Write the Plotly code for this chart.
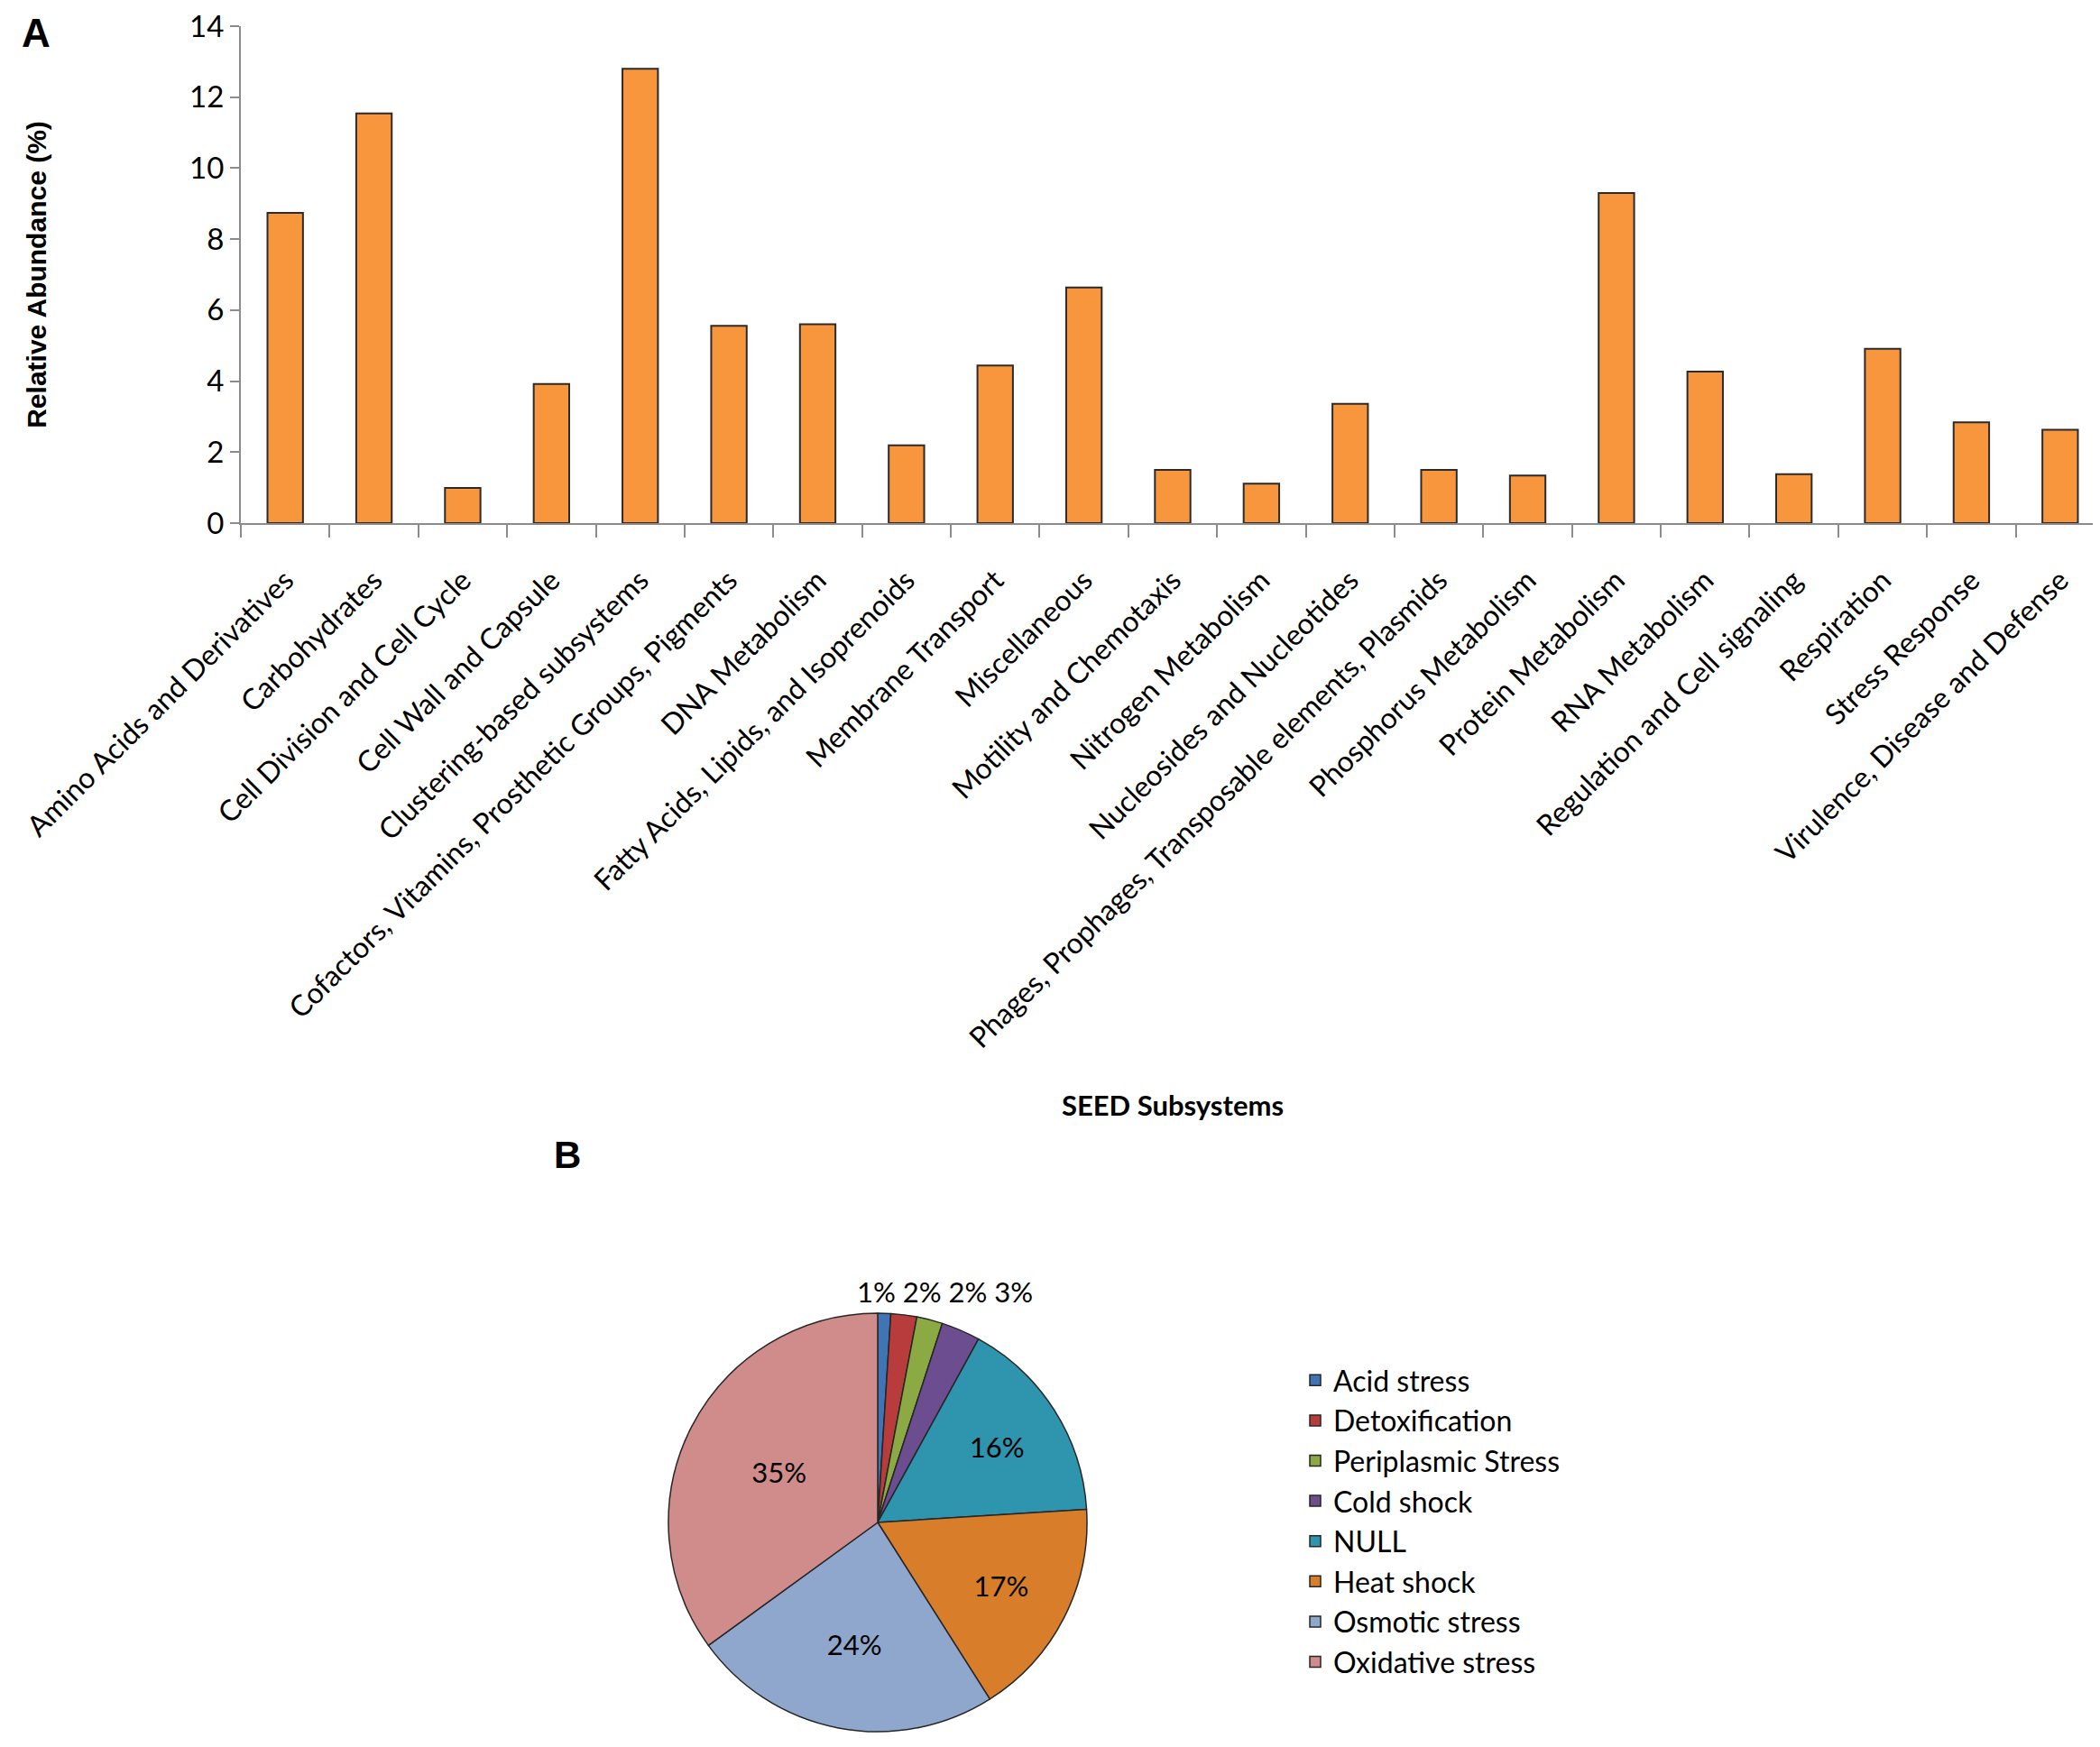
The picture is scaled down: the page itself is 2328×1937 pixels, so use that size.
import plotly.graph_objects as go

# ---------------- Data ----------------
categories = [
    "Amino Acids and Derivatives", "Carbohydrates", "Cell Division and Cell Cycle",
    "Cell Wall and Capsule", "Clustering-based subsystems",
    "Cofactors, Vitamins, Prosthetic Groups, Pigments", "DNA Metabolism",
    "Fatty Acids, Lipids, and Isoprenoids", "Membrane Transport", "Miscellaneous",
    "Motility and Chemotaxis", "Nitrogen Metabolism", "Nucleosides and Nucleotides",
    "Phages, Prophages, Transposable elements, Plasmids", "Phosphorus Metabolism",
    "Protein Metabolism", "RNA Metabolism", "Regulation and Cell signaling",
    "Respiration", "Stress Response", "Virulence, Disease and Defense",
]
abundance = [8.74, 11.54, 0.99, 3.92, 12.80, 5.56, 5.60, 2.19, 4.44, 6.64,
             1.50, 1.11, 3.36, 1.50, 1.34, 9.30, 4.27, 1.38, 4.91, 2.84, 2.63]
y_ticks = [0, 2, 4, 6, 8, 10, 12, 14]

stress_labels = ["Acid stress", "Detoxification", "Periplasmic Stress", "Cold shock",
                 "NULL", "Heat shock", "Osmotic stress", "Oxidative stress"]
stress_values = [1, 2, 2, 3, 16, 17, 24, 35]
stress_colors = ["#3F74B5", "#B83C3C", "#8BAA44", "#6C4D90",
                 "#2F94AE", "#D87E2B", "#8FA7CD", "#CF8C8A"]
# small slices get their labels in a row above the pie (as in the original)
stress_label_above = [True, True, True, True, False, False, False, False]

W, H = 2328, 1937
FONT = "Lato"

total = sum(stress_values)
pie_text = ["" if above else "%{percent:.0%}" for above in stress_label_above]
pie_pos = ["none" if above else "inside" for above in stress_label_above]
above_text = " ".join(f"{round(100 * v / total)}%"
                      for v, above in zip(stress_values, stress_label_above) if above)

fig = go.Figure()

fig.add_trace(go.Bar(
    x=categories, y=abundance,
    marker=dict(color="#F7963D", line=dict(color="#2b2b2b", width=2)),
    showlegend=False, hoverinfo="x+y",
))

pcx, pcy, pr = 965, 1680, 232
fig.add_trace(go.Pie(
    labels=stress_labels, values=stress_values,
    marker=dict(colors=stress_colors, line=dict(color="#262626", width=1.5)),
    sort=False, direction="clockwise", rotation=0,
    texttemplate=pie_text, textposition=pie_pos,
    insidetextorientation="horizontal",
    textfont=dict(family=FONT, size=31, color="black"),
    domain=dict(x=[(pcx - pr) / W, (pcx + pr) / W], y=[1 - (pcy + pr) / H, 1 - (pcy - pr) / H]),
    showlegend=True,
))

fig.update_layout(
    width=W, height=H,
    margin=dict(l=0, r=0, t=0, b=0),
    paper_bgcolor="white", plot_bgcolor="white",
    font=dict(family=FONT, size=30, color="black"),
    bargap=0.6,
    xaxis=dict(
        domain=[259 / W, 2325 / W],
        showline=True, linecolor="#8c8c8c", linewidth=2,
        ticks="outside", tickson="boundaries", ticklen=14, tickcolor="#8c8c8c", tickwidth=2,
        tickangle=-45, tickfont=dict(family=FONT, size=32, color="black"),
        ticklabelstandoff=30, ticklabelshift=0,
        showgrid=False, zeroline=False, automargin=False,
        title=dict(text="<b>SEED Subsystems</b>", font=dict(family=FONT, size=31, color="black"),
                   standoff=47),
    ),
    yaxis=dict(
        domain=[1 - 572 / H, 1 - 21 / H],
        range=[0, 14.0001], tickvals=y_ticks, ticklabeloverflow="allow",
        showline=True, linecolor="#8c8c8c", linewidth=2,
        ticks="outside", ticklen=10, tickcolor="#8c8c8c", tickwidth=2,
        tickfont=dict(family=FONT, size=33, color="black"),
        showgrid=False, zeroline=False, automargin=False,
        title=dict(text="<b>Relative Abundance (%)</b>",
                   font=dict(family="Liberation Sans", size=30, color="black"),
                   standoff=150),
    ),
    legend=dict(
        x=1430 / W, xanchor="left", y=1 - 1495 / H, yanchor="top",
        font=dict(family=FONT, size=32, color="black"),
        bgcolor="rgba(0,0,0,0)", itemwidth=30,
    ),
    annotations=[
        dict(text="<b>A</b>", x=14 / W, y=1 - 2 / H, xref="paper", yref="paper",
             xanchor="left", yanchor="top", showarrow=False,
             font=dict(family="Liberation Sans", size=44, color="black")),
        dict(text="<b>B</b>", x=604 / W, y=1 - 1247 / H, xref="paper", yref="paper",
             xanchor="left", yanchor="top", showarrow=False,
             font=dict(family="Liberation Sans", size=42, color="black")),
        dict(text=above_text, x=940 / W, y=1 - 1424 / H, xref="paper", yref="paper",
             xanchor="left", yanchor="middle", showarrow=False,
             font=dict(family=FONT, size=31, color="black")),
    ],
)

fig.write_html("out.html")
